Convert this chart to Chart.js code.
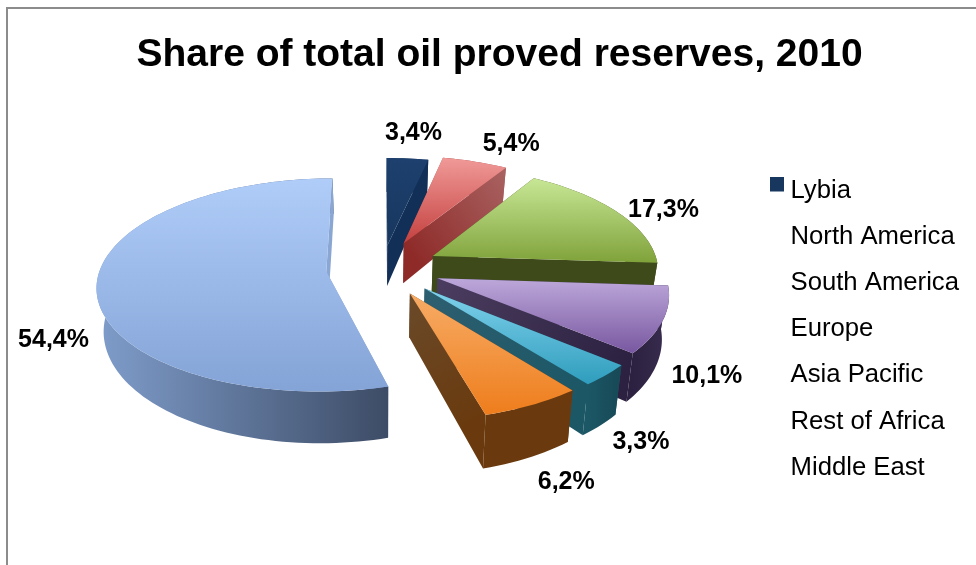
<!DOCTYPE html>
<html>
<head>
<meta charset="utf-8">
<style>
  html, body { margin: 0; padding: 0; background: #fff; overflow: hidden; }
  canvas { display: block; }
</style>
<script src="https://cdn.jsdelivr.net/npm/chart.js@4/dist/chart.umd.min.js"></script>
</head>
<body>
<canvas id="chart" width="976" height="565"></canvas>
<script>
// Share of proved oil reserves by region, in percent.
const regions = ['Lybia', 'North America', 'South America', 'Europe', 'Asia Pacific', 'Rest of Africa', 'Middle East'];
const shares = [3.4, 5.4, 17.3, 10.1, 3.3, 6.2, 54.4];

// Slice styling: top face gradient, outer wall gradient, radial wall gradient.
const faceLight = ['#1d406e', '#f09a98', '#c8e796', '#bda8da', '#80d2ec', '#f7ac66', '#b0cdf9'];
const faceDark = ['#17375e', '#c4413f', '#80a23a', '#7857a0', '#2f9dbd', '#ee7d1c', '#84a3d6'];
const wallLeft = ['#12305a', '#8a2a28', '#3f4a1b', '#2c2140', '#1c5766', '#6a3a0e', '#7f9dcb'];
const wallRight = ['#12305a', '#a96362', '#3f4a1b', '#3a2d50', '#174855', '#6a3a0e', '#3d4c66'];
const radialInner = ['#122f58', '#8e2b29', '#3f4a1b', '#4b3d5f', '#2d5f70', '#6a4a2a', '#8aa6d2'];
const radialOuter = ['#122f58', '#a96362', '#3f4a1b', '#2c2140', '#1c5766', '#6a3a0e', '#8aa6d2'];

// Explosion distance of each slice, and the tilted view of the pie.
const explode = [50, 60, 58, 59, 60, 60, 56];
const pieRadius = 226;
const view = { cx: 382, cy: 268, squash: 0.46, depth: 1800, wall: 42, taper: 0.975 };

const labelNudge = [[6, -25], [36, -18], [46, -2], [44, 56], [35, 67], [34, 77], [-43, 54]];

function project(u, v, lowered) {
  const p = 1 / (1 + v / view.depth);
  const k = lowered ? view.taper : 1;
  return {
    x: view.cx + u * p * k,
    y: view.cy - v * p * view.squash + (lowered ? view.wall * Math.pow(p, 1.5) : 0)
  };
}

function sliceOutline(arc) {
  const mid = (arc.startAngle + arc.endAngle) / 2;
  const ox = Math.cos(mid) * arc.options.offset;
  const oy = Math.sin(mid) * arc.options.offset;
  const steps = Math.max(4, Math.ceil((arc.endAngle - arc.startAngle) / 0.03));
  const rim = [];
  for (let i = 0; i <= steps; i++) {
    const a = arc.startAngle + (arc.endAngle - arc.startAngle) * i / steps;
    rim.push([ox + arc.outerRadius * Math.cos(a), -(oy + arc.outerRadius * Math.sin(a))]);
  }
  return { apex: [ox, -oy], rim };
}

function fillPolygon(ctx, points, style) {
  ctx.beginPath();
  points.forEach((pt, i) => (i ? ctx.lineTo(pt.x, pt.y) : ctx.moveTo(pt.x, pt.y)));
  ctx.closePath();
  ctx.fillStyle = style;
  ctx.fill();
}

function radialWall(ctx, topApex, lowApex, topEnd, lowEnd, inner, outer) {
  const grad = ctx.createLinearGradient(topApex.x, topApex.y, topEnd.x, topEnd.y);
  grad.addColorStop(0, inner);
  grad.addColorStop(1, outer);
  fillPolygon(ctx, [topApex, topEnd, lowEnd, lowApex], grad);
}

const tiltedPie = {
  id: 'tiltedPie',
  beforeDatasetDraw(chart, args) {
    const ctx = chart.ctx;
    args.meta.data.forEach((arc, i) => {
      const { apex, rim } = sliceOutline(arc);
      const topRim = rim.map(q => project(q[0], q[1], false));
      const lowRim = rim.map(q => project(q[0], q[1], true));
      const topApex = project(apex[0], apex[1], false);
      const lowApex = project(apex[0], apex[1], true);
      const face = [topApex, ...topRim];
      const last = topRim.length - 1;

      const xs = topRim.map(q => q.x);
      const wallGrad = ctx.createLinearGradient(Math.min(...xs), 0, Math.max(...xs), 0);
      wallGrad.addColorStop(0, wallLeft[i]);
      wallGrad.addColorStop(1, wallRight[i]);

      radialWall(ctx, topApex, lowApex, topRim[0], lowRim[0], radialInner[i], radialOuter[i]);
      fillPolygon(ctx, [...topRim, ...lowRim.slice().reverse()], wallGrad);
      radialWall(ctx, topApex, lowApex, topRim[last], lowRim[last], radialInner[i], radialOuter[i]);

      const ys = face.map(q => q.y);
      const faceGrad = ctx.createLinearGradient(0, Math.min(...ys), 0, Math.max(...ys));
      faceGrad.addColorStop(0, faceLight[i]);
      faceGrad.addColorStop(1, faceDark[i]);
      fillPolygon(ctx, face, faceGrad);
    });
    return false;
  },
  afterDatasetsDraw(chart) {
    const ctx = chart.ctx;
    const meta = chart.getDatasetMeta(0);
    ctx.save();
    ctx.font = 'bold 25px "Liberation Sans", Arial, sans-serif';
    ctx.fillStyle = '#000';
    ctx.textAlign = 'center';
    ctx.textBaseline = 'middle';
    meta.data.forEach((arc, i) => {
      const mid = (arc.startAngle + arc.endAngle) / 2;
      const r = arc.outerRadius + arc.options.offset;
      const pos = project(r * Math.cos(mid), -r * Math.sin(mid), false);
      const text = shares[i].toFixed(1).replace('.', ',') + '%';
      ctx.fillText(text, pos.x + labelNudge[i][0], pos.y + labelNudge[i][1]);
    });
    ctx.restore();
  },
  beforeDraw(chart) {
    const ctx = chart.ctx;
    ctx.save();
    ctx.strokeStyle = '#8c8c8c';
    ctx.lineWidth = 2;
    ctx.beginPath();
    ctx.moveTo(7, chart.height);
    ctx.lineTo(7, 8);
    ctx.lineTo(chart.width, 8);
    ctx.stroke();
    ctx.restore();
  }
};

// Only the first legend entry shows a swatch.
function swatch(color) {
  const c = document.createElement('canvas');
  c.width = 14;
  c.height = 26;
  if (color) {
    const g = c.getContext('2d');
    g.fillStyle = color;
    g.fillRect(0, 0, 14, 14);
  }
  return c;
}

new Chart(document.getElementById('chart'), {
  type: 'pie',
  data: {
    labels: regions,
    datasets: [{
      data: shares,
      backgroundColor: faceDark,
      offset: explode,
      hoverOffset: 0,
      borderWidth: 0
    }]
  },
  options: {
    responsive: false,
    animation: false,
    radius: pieRadius,
    rotation: 0,
    layout: { padding: { left: 30, right: 7, top: 0, bottom: 64 } },
    plugins: {
      tooltip: { enabled: false },
      title: {
        display: true,
        text: 'Share of total oil proved reserves, 2010',
        color: '#000',
        font: { family: '"Liberation Sans", Arial, sans-serif', size: 39, weight: 'bold' },
        padding: { top: 32, bottom: 9 }
      },
      legend: {
        position: 'right',
        align: 'end',
        labels: {
          color: '#000',
          font: { family: '"Liberation Sans", Arial, sans-serif', size: 25.7 },
          usePointStyle: true,
          pointStyleWidth: 0.5,
          padding: 20.5,
          generateLabels(chart) {
            return regions.map((name, i) => ({
              text: name,
              fillStyle: 'transparent',
              strokeStyle: 'transparent',
              lineWidth: 0,
              pointStyle: swatch(i === 0 ? faceDark[0] : null),
              index: i
            }));
          }
        }
      }
    }
  },
  plugins: [tiltedPie]
});
</script>
</body>
</html>
